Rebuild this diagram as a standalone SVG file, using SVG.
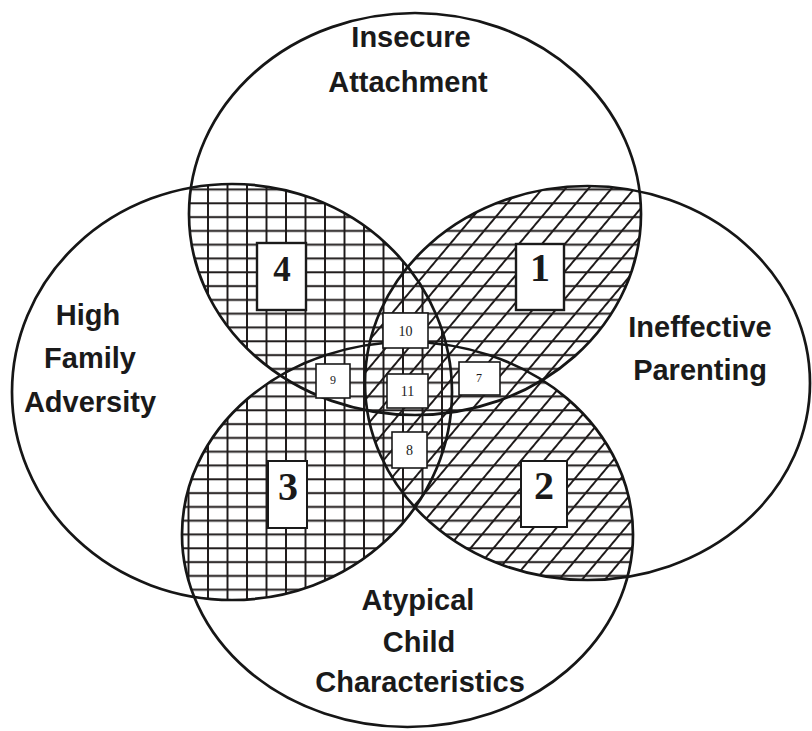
<svg xmlns="http://www.w3.org/2000/svg" width="812" height="731" viewBox="0 0 812 731">
<style>
.outline{fill:none;stroke:#161616;stroke-width:2.7}
.lbl{font-family:"Liberation Sans",Arial,sans-serif;font-weight:bold;font-size:29px;fill:#1a1a1a;text-anchor:middle}
.box{fill:#fff;stroke:#1a1a1a;stroke-width:1.6}
.bigbox{fill:#fff;stroke:#1a1a1a;stroke-width:2.4}
.big{font-family:"Liberation Serif","Times New Roman",serif;font-weight:bold;font-size:40px;fill:#1a1a1a;text-anchor:middle}
.small{font-family:"Liberation Serif","Times New Roman",serif;font-size:14px;fill:#1a1a1a;text-anchor:middle}
.hl{stroke:#1e1a1a;stroke-width:2}
</style>
<defs>
<clipPath id="cTB"><ellipse cx="415" cy="214" rx="226" ry="201"/><ellipse cx="407.5" cy="534.5" rx="225.5" ry="192.5"/></clipPath>
<clipPath id="cLR"><ellipse cx="232" cy="392" rx="220" ry="208"/><ellipse cx="587.5" cy="383" rx="222.5" ry="197"/></clipPath>
<clipPath id="cL"><ellipse cx="232" cy="392" rx="220" ry="208"/></clipPath>
<clipPath id="cR"><ellipse cx="587.5" cy="383" rx="222.5" ry="197"/></clipPath>
<pattern id="pH" patternUnits="userSpaceOnUse" x="0" y="0" width="40" height="13.8"><line class="hl" x1="0" y1="10" x2="40" y2="10"/></pattern>
<pattern id="pV" patternUnits="userSpaceOnUse" x="3.25" y="0" width="19.5" height="40"><line class="hl" x1="9.75" y1="0" x2="9.75" y2="40"/></pattern>
<pattern id="pD" patternUnits="userSpaceOnUse" x="0" y="0" width="17.6" height="40" patternTransform="rotate(40)"><line class="hl" x1="8.8" y1="0" x2="8.8" y2="40"/></pattern>
</defs>
<rect width="812" height="731" fill="#fff"/>
<g id="hatching">
<g clip-path="url(#cTB)"><rect x="0" y="0" width="812" height="731" fill="url(#pH)" clip-path="url(#cLR)"/></g>
<g clip-path="url(#cTB)"><rect x="0" y="0" width="812" height="731" fill="url(#pV)" clip-path="url(#cL)"/></g>
<g clip-path="url(#cTB)"><rect x="0" y="0" width="812" height="731" fill="url(#pD)" clip-path="url(#cR)"/></g>
</g>
<g id="insecure-attachment">
<ellipse class="outline" cx="415" cy="214" rx="226" ry="201"/>
<text class="lbl" x="411" y="47">Insecure</text>
<text class="lbl" x="408" y="92">Attachment</text>
</g>
<g id="high-family-adversity">
<ellipse class="outline" cx="232" cy="392" rx="220" ry="208"/>
<text class="lbl" x="88" y="325">High</text>
<text class="lbl" x="90" y="368">Family</text>
<text class="lbl" x="90" y="412">Adversity</text>
</g>
<g id="ineffective-parenting">
<ellipse class="outline" cx="587.5" cy="383" rx="222.5" ry="197"/>
<text class="lbl" x="700" y="337">Ineffective</text>
<text class="lbl" x="700" y="380">Parenting</text>
</g>
<g id="atypical-child-characteristics">
<ellipse class="outline" cx="407.5" cy="534.5" rx="225.5" ry="192.5"/>
<text class="lbl" x="418" y="610">Atypical</text>
<text class="lbl" x="419" y="652">Child</text>
<text class="lbl" x="420" y="692">Characteristics</text>
</g>
<g id="connectors"/>
<g id="region-4"><rect class="bigbox" x="257" y="243" width="49" height="67"/><text class="big" x="282" y="281" style="font-size:35px">4</text></g>
<g id="region-1"><rect class="bigbox" x="516" y="244" width="48" height="66"/><text class="big" x="540" y="281">1</text></g>
<g id="region-3"><rect class="box" style="stroke-width:2" x="268" y="461" width="39" height="67"/><text class="big" x="288" y="500">3</text></g>
<g id="region-2"><rect class="box" style="stroke-width:2" x="521" y="461" width="46" height="66"/><text class="big" x="544" y="499">2</text></g>
<g id="region-10"><rect class="box" x="383" y="313" width="45" height="35"/><text class="small" x="405.5" y="336">10</text></g>
<g id="region-9"><rect class="box" x="316" y="364" width="34" height="34"/><text class="small" x="333" y="384" style="font-size:12px">9</text></g>
<g id="region-11"><rect class="box" x="387" y="374" width="41" height="34"/><text class="small" x="407.5" y="396">11</text></g>
<g id="region-7"><rect class="box" x="459" y="362" width="41" height="33" /><text class="small" x="479" y="382" style="font-size:12px">7</text></g>
<g id="region-8"><rect class="box" x="392" y="432" width="35" height="36"/><text class="small" x="409.5" y="455">8</text></g>
</svg>
